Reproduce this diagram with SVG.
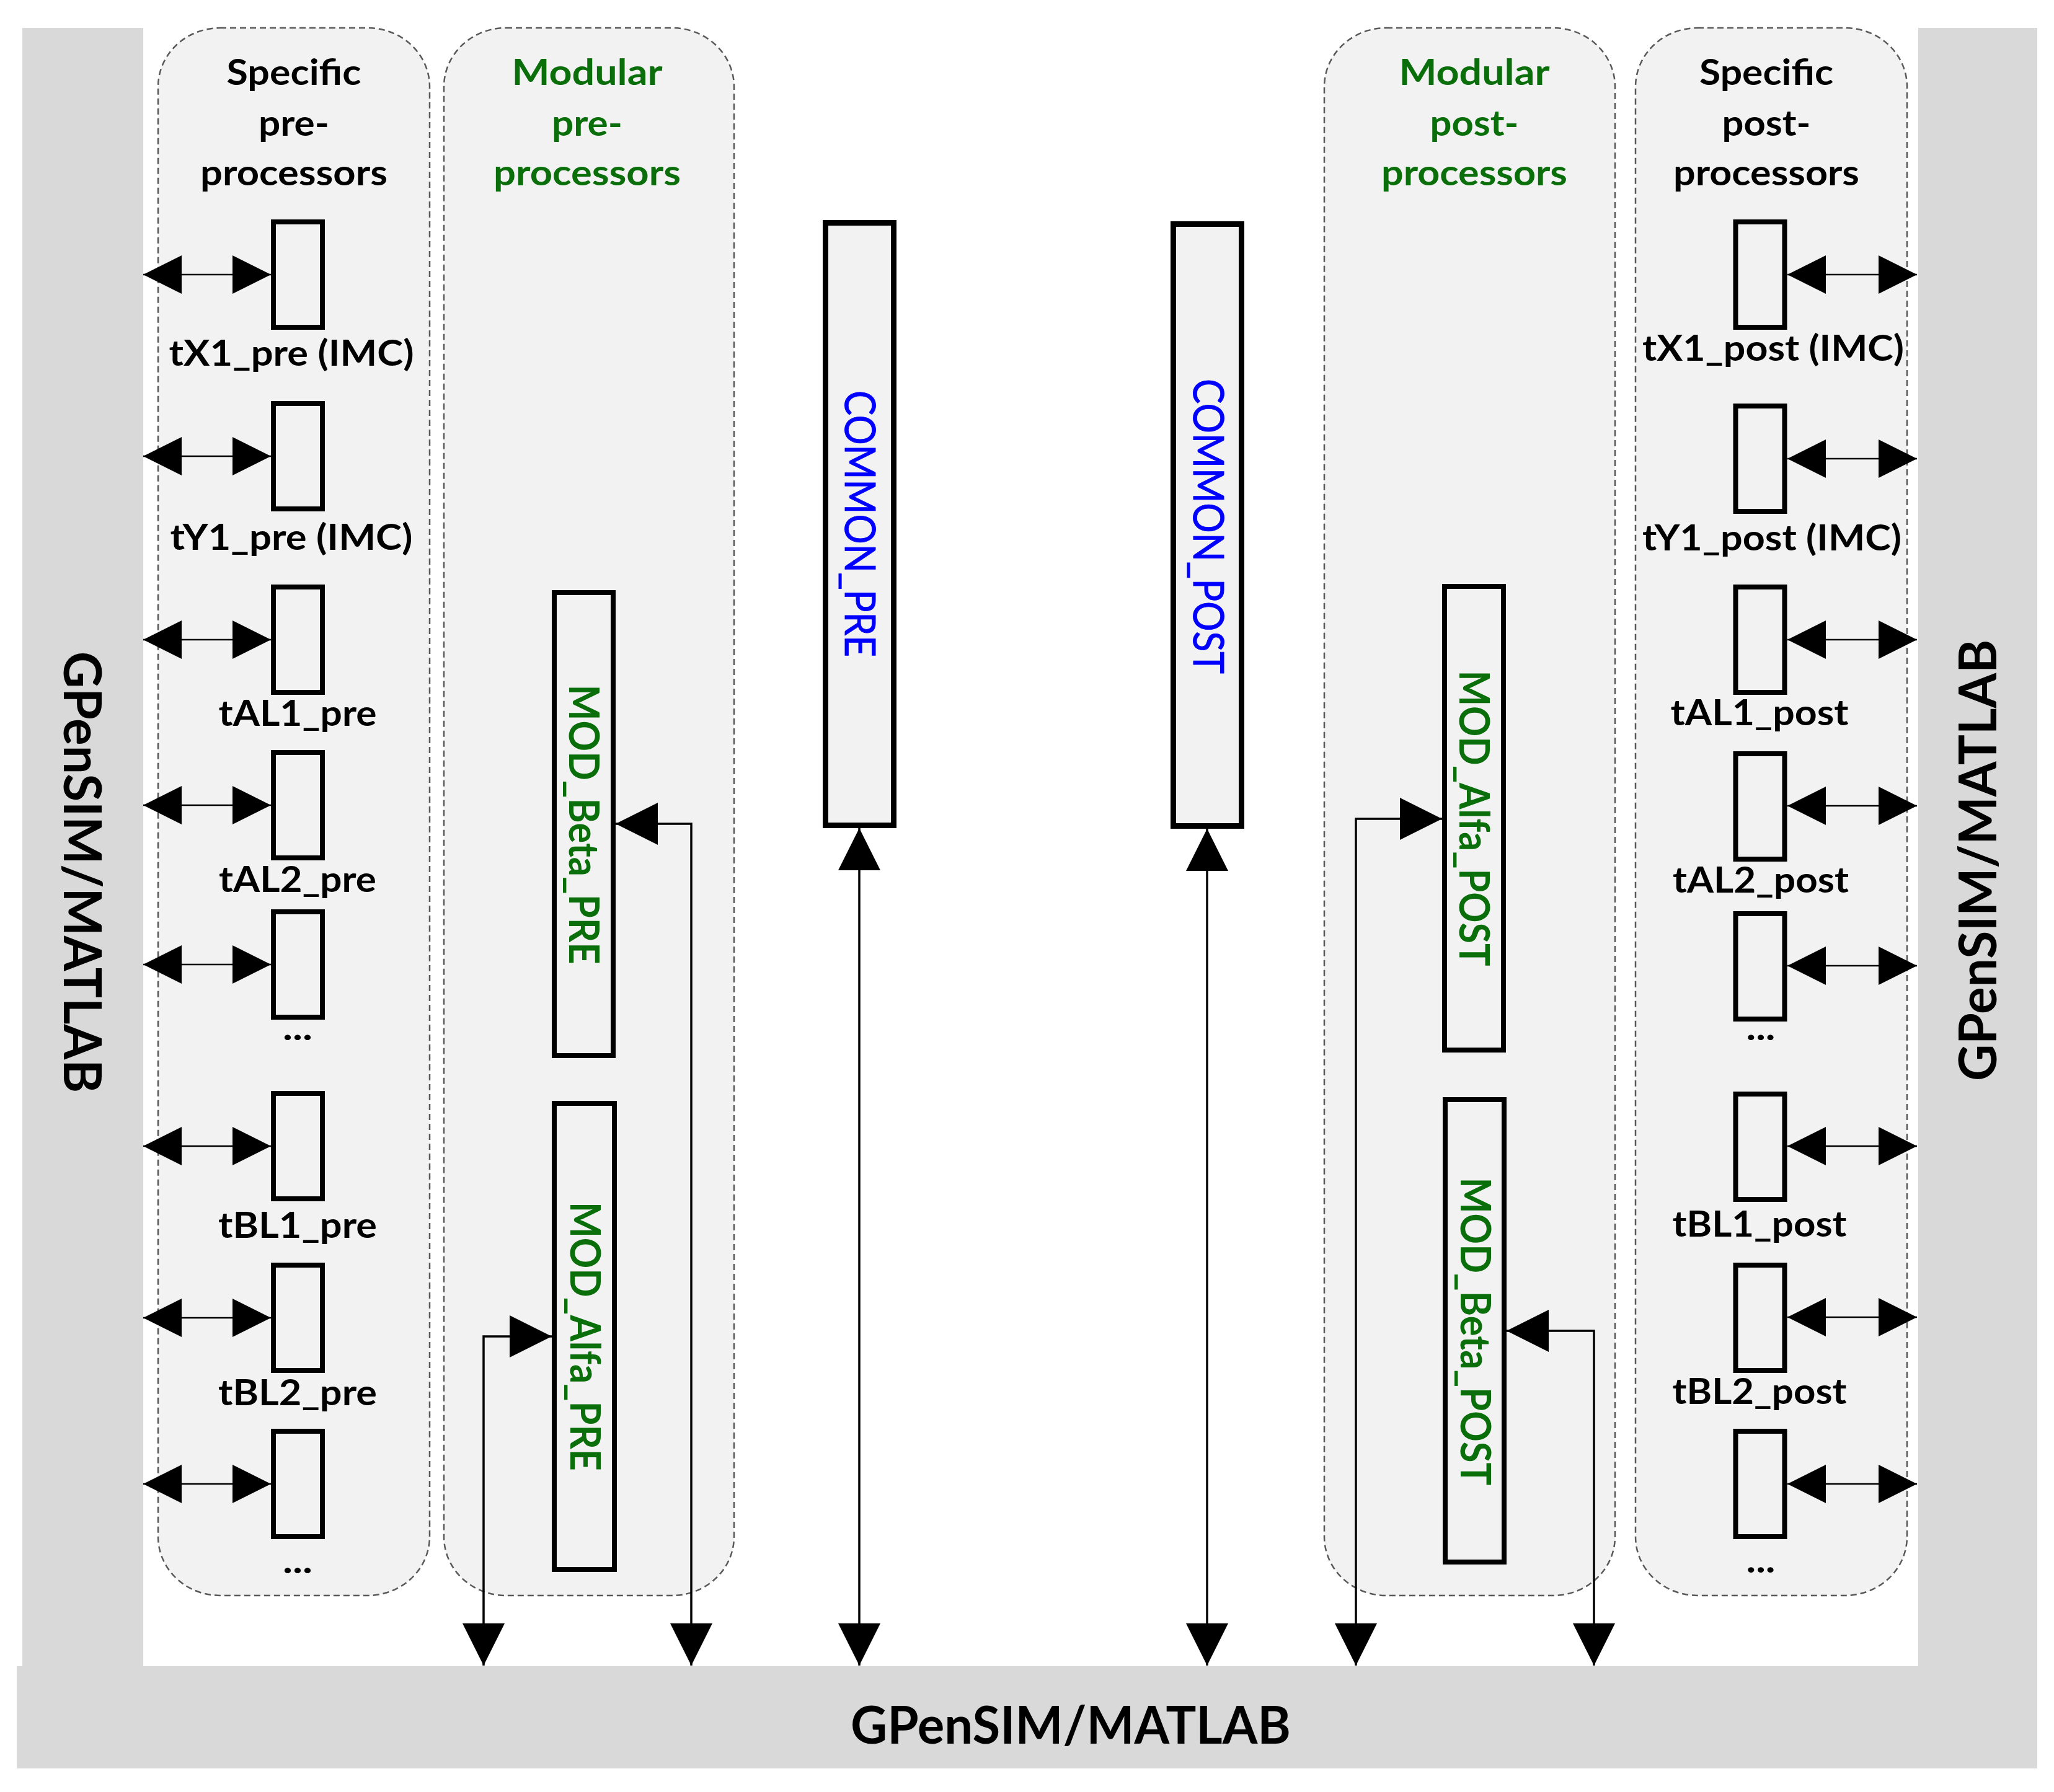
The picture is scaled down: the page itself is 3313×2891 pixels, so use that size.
<svg xmlns="http://www.w3.org/2000/svg" width="3313" height="2891" viewBox="0 0 3313 2891">
<style>
.bar{fill:#d9d9d9}
.grp{fill:#f2f2f2;stroke:#595959;stroke-width:2.5;stroke-dasharray:10 6}
.box{fill:#f2f2f2;stroke:#000;stroke-width:8}
.big{fill:#f2f2f2;stroke:#000;stroke-width:9}
.mod{fill:#f2f2f2;stroke:#000;stroke-width:8}
text{font-family:Lato,"Liberation Sans",sans-serif;text-anchor:middle}
.t{font-weight:bold;font-size:58px;fill:#000}
.g{fill:#0a6e0a}
.cm{font-weight:normal;font-size:68px;fill:#0000ff;stroke:#0000ff;stroke-width:1}
.md{font-weight:bold;font-size:66px;fill:#0a6e0a}
.gp{font-weight:bold;font-size:84px;fill:#000}
.dbl{stroke:#000;stroke-width:2.5;fill:none;marker-start:url(#ah);marker-end:url(#ah)}
.cn{stroke:#000;stroke-width:3.5;fill:none;marker-start:url(#ahb);marker-end:url(#ahb)}
</style>
<defs>
<marker id="ah" viewBox="0 0 62 62" refX="62" refY="31" markerWidth="62" markerHeight="62" markerUnits="userSpaceOnUse" orient="auto-start-reverse"><path d="M0,0L62,31L0,62z" fill="#000"/></marker>
<marker id="ahb" viewBox="0 0 68 68" refX="68" refY="34" markerWidth="68" markerHeight="68" markerUnits="userSpaceOnUse" orient="auto-start-reverse"><path d="M0,0L68,34L0,68z" fill="#000"/></marker>
</defs>
<rect width="3313" height="2891" fill="#fff"/>
<g id="gpensim-bars">
<rect class="bar" x="36" y="45" width="195" height="2650"/>
<rect class="bar" x="3094" y="45" width="192" height="2650"/>
<rect class="bar" x="27" y="2688" width="3259" height="165"/>
<text class="gp" x="1727" y="2813" textLength="710" lengthAdjust="spacingAndGlyphs">GPenSIM/MATLAB</text>
<text class="gp" transform="translate(103,1407) rotate(90)" textLength="712" lengthAdjust="spacingAndGlyphs">GPenSIM/MATLAB</text>
<text class="gp" transform="translate(3220,1388) rotate(-90)" textLength="712" lengthAdjust="spacingAndGlyphs">GPenSIM/MATLAB</text>
</g>
<g id="specific-pre">
<rect class="grp" x="255" y="45" width="438" height="2529" rx="100" ry="95"/>
<text class="t" x="474" y="137" textLength="217" lengthAdjust="spacingAndGlyphs">Specific</text>
<text class="t" x="474" y="219" textLength="114" lengthAdjust="spacingAndGlyphs">pre-</text>
<text class="t" x="474" y="299" textLength="302" lengthAdjust="spacingAndGlyphs">processors</text>
</g>
<g id="modular-pre">
<rect class="grp" x="716" y="45" width="468" height="2529" rx="100" ry="95"/>
<text class="t g" x="947" y="137" textLength="243" lengthAdjust="spacingAndGlyphs">Modular</text>
<text class="t g" x="947" y="219" textLength="114" lengthAdjust="spacingAndGlyphs">pre-</text>
<text class="t g" x="947" y="299" textLength="302" lengthAdjust="spacingAndGlyphs">processors</text>
</g>
<g id="modular-post">
<rect class="grp" x="2136" y="45" width="469" height="2529" rx="100" ry="95"/>
<text class="t g" x="2378" y="137" textLength="243" lengthAdjust="spacingAndGlyphs">Modular</text>
<text class="t g" x="2378" y="219" textLength="143" lengthAdjust="spacingAndGlyphs">post-</text>
<text class="t g" x="2378" y="299" textLength="300" lengthAdjust="spacingAndGlyphs">processors</text>
</g>
<g id="specific-post">
<rect class="grp" x="2638" y="45" width="438" height="2529" rx="100" ry="95"/>
<text class="t" x="2849" y="137" textLength="216" lengthAdjust="spacingAndGlyphs">Specific</text>
<text class="t" x="2849" y="219" textLength="143" lengthAdjust="spacingAndGlyphs">post-</text>
<text class="t" x="2849" y="299" textLength="300" lengthAdjust="spacingAndGlyphs">processors</text>
</g>
<g id="tX1_pre"><rect class="box" x="441" y="358" width="79" height="170"/><text class="t" x="470" y="590" textLength="395" lengthAdjust="spacingAndGlyphs">tX1_pre (IMC)</text></g>
<g id="tY1_pre"><rect class="box" x="441" y="651" width="79" height="170"/><text class="t" x="470" y="887" textLength="391" lengthAdjust="spacingAndGlyphs">tY1_pre (IMC)</text></g>
<g id="tAL1_pre"><rect class="box" x="441" y="947" width="79" height="170"/><text class="t" x="480" y="1171" textLength="255" lengthAdjust="spacingAndGlyphs">tAL1_pre</text></g>
<g id="tAL2_pre"><rect class="box" x="441" y="1214" width="79" height="170"/><text class="t" x="480" y="1439" textLength="254" lengthAdjust="spacingAndGlyphs">tAL2_pre</text></g>
<g id="pre_more1"><rect class="box" x="441" y="1471" width="79" height="170"/><text class="t" x="480" y="1678" textLength="48" lengthAdjust="spacingAndGlyphs">...</text></g>
<g id="tBL1_pre"><rect class="box" x="441" y="1764" width="79" height="170"/><text class="t" x="480" y="1997" textLength="256" lengthAdjust="spacingAndGlyphs">tBL1_pre</text></g>
<g id="tBL2_pre"><rect class="box" x="441" y="2041" width="79" height="170"/><text class="t" x="480" y="2267" textLength="256" lengthAdjust="spacingAndGlyphs">tBL2_pre</text></g>
<g id="pre_more2"><rect class="box" x="441" y="2309" width="79" height="170"/><text class="t" x="480" y="2538" textLength="48" lengthAdjust="spacingAndGlyphs">...</text></g>
<g id="tX1_post"><rect class="box" x="2799.5" y="358" width="79" height="170"/><text class="t" x="2860" y="582" textLength="422" lengthAdjust="spacingAndGlyphs">tX1_post (IMC)</text></g>
<g id="tY1_post"><rect class="box" x="2799.5" y="655" width="79" height="170"/><text class="t" x="2858" y="888" textLength="418" lengthAdjust="spacingAndGlyphs">tY1_post (IMC)</text></g>
<g id="tAL1_post"><rect class="box" x="2799.5" y="947" width="79" height="170"/><text class="t" x="2838" y="1170" textLength="287" lengthAdjust="spacingAndGlyphs">tAL1_post</text></g>
<g id="tAL2_post"><rect class="box" x="2799.5" y="1216" width="79" height="170"/><text class="t" x="2840" y="1440" textLength="284" lengthAdjust="spacingAndGlyphs">tAL2_post</text></g>
<g id="post_more1"><rect class="box" x="2799.5" y="1474" width="79" height="170"/><text class="t" x="2840" y="1678" textLength="47" lengthAdjust="spacingAndGlyphs">...</text></g>
<g id="tBL1_post"><rect class="box" x="2799.5" y="1765" width="79" height="170"/><text class="t" x="2838" y="1995" textLength="281" lengthAdjust="spacingAndGlyphs">tBL1_post</text></g>
<g id="tBL2_post"><rect class="box" x="2799.5" y="2041" width="79" height="170"/><text class="t" x="2838" y="2265" textLength="281" lengthAdjust="spacingAndGlyphs">tBL2_post</text></g>
<g id="post_more2"><rect class="box" x="2799.5" y="2309" width="79" height="170"/><text class="t" x="2840" y="2537" textLength="47" lengthAdjust="spacingAndGlyphs">...</text></g>
<g id="COMMON_PRE"><rect class="big" x="1331.5" y="359.5" width="110" height="972"/><text class="cm" transform="translate(1363,845) rotate(90)" textLength="430" lengthAdjust="spacingAndGlyphs">COMMON_PRE</text></g>
<g id="COMMON_POST"><rect class="big" x="1892.5" y="361.5" width="110" height="971"/><text class="cm" transform="translate(1925,849) rotate(90)" textLength="476" lengthAdjust="spacingAndGlyphs">COMMON_POST</text></g>
<g id="MOD_Beta_PRE"><rect class="mod" x="894" y="956" width="95" height="747"/><text class="md" transform="translate(918,1330) rotate(90)" textLength="451" lengthAdjust="spacingAndGlyphs">MOD_Beta_PRE</text></g>
<g id="MOD_Alfa_PRE"><rect class="mod" x="894" y="1780" width="97" height="752"/><text class="md" transform="translate(920,2156) rotate(90)" textLength="434" lengthAdjust="spacingAndGlyphs">MOD_Alfa_PRE</text></g>
<g id="MOD_Alfa_POST"><rect class="mod" x="2330" y="946" width="95" height="748"/><text class="md" transform="translate(2354,1320) rotate(90)" textLength="477" lengthAdjust="spacingAndGlyphs">MOD_Alfa_POST</text></g>
<g id="MOD_Beta_POST"><rect class="mod" x="2331" y="1774" width="95" height="746"/><text class="md" transform="translate(2356,2148) rotate(90)" textLength="497" lengthAdjust="spacingAndGlyphs">MOD_Beta_POST</text></g>
<g id="connectors">
<line class="dbl" x1="231" y1="443" x2="437" y2="443"/>
<line class="dbl" x1="231" y1="736" x2="437" y2="736"/>
<line class="dbl" x1="231" y1="1032" x2="437" y2="1032"/>
<line class="dbl" x1="231" y1="1299" x2="437" y2="1299"/>
<line class="dbl" x1="231" y1="1556" x2="437" y2="1556"/>
<line class="dbl" x1="231" y1="1849" x2="437" y2="1849"/>
<line class="dbl" x1="231" y1="2126" x2="437" y2="2126"/>
<line class="dbl" x1="231" y1="2394" x2="437" y2="2394"/>
<line class="dbl" x1="2883" y1="443" x2="3092" y2="443"/>
<line class="dbl" x1="2883" y1="740" x2="3092" y2="740"/>
<line class="dbl" x1="2883" y1="1032" x2="3092" y2="1032"/>
<line class="dbl" x1="2883" y1="1300" x2="3092" y2="1300"/>
<line class="dbl" x1="2883" y1="1558" x2="3092" y2="1558"/>
<line class="dbl" x1="2883" y1="1849" x2="3092" y2="1849"/>
<line class="dbl" x1="2883" y1="2125" x2="3092" y2="2125"/>
<line class="dbl" x1="2883" y1="2394" x2="3092" y2="2394"/>
<path class="cn" d="M993,1329H1115V2687"/>
<path class="cn" d="M780,2687V2156H890"/>
<path class="cn" d="M1386,1336V2687"/>
<path class="cn" d="M1947,1337V2687"/>
<path class="cn" d="M2187,2687V1321H2326"/>
<path class="cn" d="M2430,2147H2571V2687"/>
</g>
</svg>
